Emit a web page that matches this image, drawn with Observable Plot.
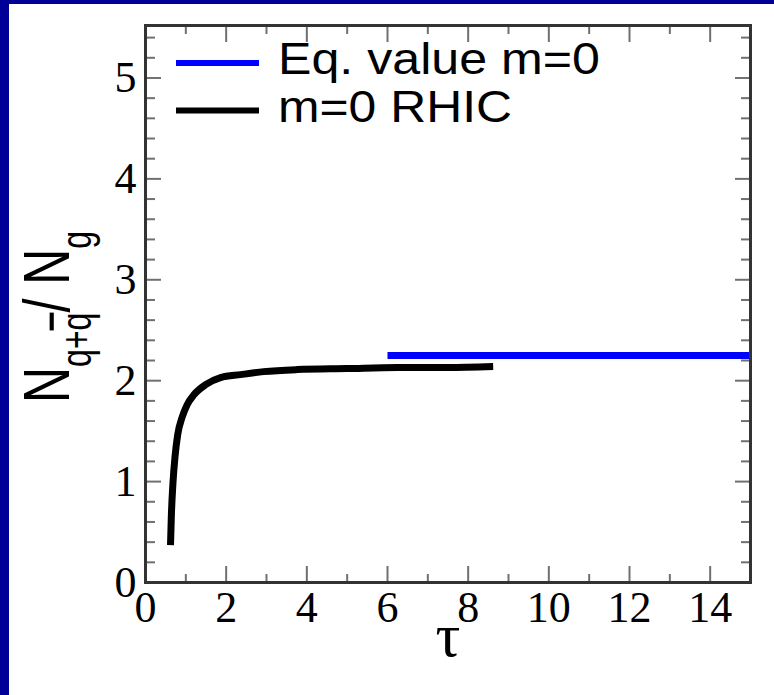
<!DOCTYPE html>
<html><head><meta charset="utf-8">
<script src="https://cdn.jsdelivr.net/npm/d3@7"></script>
<script src="https://cdn.jsdelivr.net/npm/@observablehq/plot@0.6"></script>
<style>
html,body{margin:0;padding:0;background:#000099;width:774px;height:695px;overflow:hidden;}
#wrap{position:absolute;left:9px;top:4px;width:765px;height:691px;background:#fff;}
</style></head><body><div id="wrap"></div>
<script>
// RHIC m=0 curve: tau vs N_{q+qbar}/N_g
const tau   = [0.62, 0.64, 0.68, 0.73, 0.80, 0.91, 1.03, 1.20, 1.49, 1.86, 2.36, 2.93, 3.76, 5.00, 6.24, 7.48, 8.62];
const ratio = [0.37, 0.65, 0.98, 1.24, 1.47, 1.64, 1.76, 1.86, 1.96, 2.03, 2.06, 2.09, 2.11, 2.12, 2.13, 2.13, 2.14];
// equilibrium value
const eqTau   = [6, 15];
const eqRatio = [2.25, 2.25];
// ticks
const xTicks = [0, 2, 4, 6, 8, 10, 12, 14];
const xMinorTicks = [1, 3, 5, 7, 9, 11, 13, 15];
const yTicks = [0, 1, 2, 3, 4, 5];
const yMinorTicks = [0.2,0.4,0.6,0.8,1.2,1.4,1.6,1.8,2.2,2.4,2.6,2.8,3.2,3.4,3.6,3.8,4.2,4.4,4.6,4.8,5.2,5.4];
const legendLabels = ["Eq. value m=0", "m=0 RHIC"];
const xTitle = "τ";

const curve = tau.map((t, i) => ({tau: t, ratio: ratio[i]}));
const eq = eqTau.map((t, i) => ({tau: t, ratio: eqRatio[i]}));

const W = 765, H = 691;
const tickStyle = {stroke: "#707070", strokeWidth: 2, label: null, tickFormat: () => ""};
const plot = Plot.plot({
  width: W, height: H,
  marginLeft: 136, marginRight: 24, marginTop: 21, marginBottom: 113,
  x: {domain: [0, 15]},
  y: {domain: [0, 5.52]},
  style: {background: "transparent", color: "#000", fontFamily: "'Liberation Serif', 'Times New Roman', serif"},
  marks: [
    Plot.axisX(xTicks, {anchor: "bottom", tickSize: -16, ...tickStyle}),
    Plot.axisX(xMinorTicks, {anchor: "bottom", tickSize: -8, ...tickStyle}),
    Plot.axisX(xTicks, {anchor: "top", tickSize: -16, ...tickStyle}),
    Plot.axisX(xMinorTicks, {anchor: "top", tickSize: -8, ...tickStyle}),
    Plot.axisY(yTicks, {anchor: "left", tickSize: -16, ...tickStyle}),
    Plot.axisY(yMinorTicks, {anchor: "left", tickSize: -10, ...tickStyle}),
    Plot.axisY(yTicks, {anchor: "right", tickSize: -16, ...tickStyle}),
    Plot.axisY(yMinorTicks, {anchor: "right", tickSize: -10, ...tickStyle}),
    Plot.axisX(xTicks, {anchor: "bottom", tickSize: 0, tickPadding: 8, label: null, fontSize: 44, fill: "#000", tickFormat: d => String(d)}),
    Plot.axisY(yTicks, {anchor: "left", tickSize: 0, tickPadding: 9, label: null, fontSize: 44, fill: "#000", tickFormat: d => String(d)}),
    Plot.line(eq, {x: "tau", y: "ratio", stroke: "#0000ff", strokeWidth: 7, strokeLinecap: "butt"}),
    Plot.line(curve, {x: "tau", y: "ratio", stroke: "#000", strokeWidth: 7, strokeLinecap: "butt", curve: "monotone-x"}),
    Plot.frame({stroke: "#333", strokeWidth: 3})
  ]
});
document.getElementById("wrap").appendChild(plot);

const svg = d3.select(plot);
// legend
const legend = [
  {label: legendLabels[0], color: "#0000ff", y: 59, tw: 322},
  {label: legendLabels[1], color: "#000", y: 106.5, tw: 234}
];
legend.forEach(d => {
  svg.append("line").attr("x1", 167).attr("x2", 250).attr("y1", d.y).attr("y2", d.y)
    .attr("stroke", d.color).attr("stroke-width", 6);
  svg.append("text").attr("x", 269).attr("y", d.y + 11).attr("text-anchor", "start")
    .attr("font-family", "'Liberation Sans', Arial, sans-serif").attr("font-size", 45)
    .attr("textLength", d.tw).attr("lengthAdjust", "spacingAndGlyphs")
    .attr("fill", "#000").text(d.label);
});
// x title
svg.append("text").attr("x", 439).attr("y", 652).attr("text-anchor", "middle")
  .attr("font-family", "'Liberation Serif', 'Times New Roman', serif").attr("font-size", 62)
  .attr("fill", "#000").text(xTitle);
// y title
const yt = svg.append("text").attr("transform", "translate(60,399) rotate(-90) scale(1,1.3)")
  .attr("text-anchor", "start")
  .attr("font-family", "'Liberation Sans', Arial, sans-serif").attr("font-size", 50).attr("fill", "#000");
yt.append("tspan").text("N");
yt.append("tspan").attr("font-size", 32).attr("dy", 17).text("q+");
yt.append("tspan").attr("font-size", 32).style("text-decoration", "overline").text("q");
yt.append("tspan").attr("dy", -17).text("/ N");
yt.append("tspan").attr("font-size", 32).attr("dy", 17).text("g");
</script>
</body></html>
